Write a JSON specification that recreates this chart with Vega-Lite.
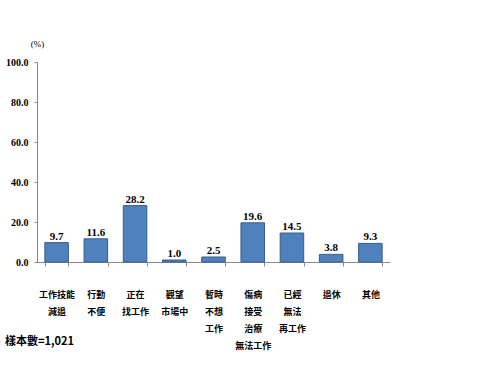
{
  "$schema": "https://vega.github.io/schema/vega-lite/v6.json",
  "width": 353,
  "height": 200,
  "autosize": "none",
  "padding": {"left": 37, "top": 62, "right": 110, "bottom": 113},
  "background": "white",
  "title": {
    "text": "樣本數=1,021",
    "orient": "bottom",
    "anchor": "start",
    "frame": "group",
    "dx": -32,
    "offset": -14,
    "font": "Noto Sans CJK TC",
    "fontSize": 11,
    "fontWeight": "bold",
    "color": "#000000"
  },
  "data": {
    "values": [
      {"reason": "工作技能/減退", "pct": 9.7},
      {"reason": "行動/不便", "pct": 11.6},
      {"reason": "正在/找工作", "pct": 28.2},
      {"reason": "觀望/市場中", "pct": 1.0},
      {"reason": "暫時/不想/工作", "pct": 2.5},
      {"reason": "傷病/接受/治療/無法工作", "pct": 19.6},
      {"reason": "已經/無法/再工作", "pct": 14.5},
      {"reason": "退休", "pct": 3.8},
      {"reason": "其他", "pct": 9.3}
    ]
  },
  "encoding": {
    "x": {
      "field": "reason",
      "type": "nominal",
      "sort": null,
      "scale": {"paddingInner": 0.4, "paddingOuter": 0.2},
      "axis": {
        "title": null,
        "labelAngle": 0,
        "labelExpr": "split(datum.label, '/')",
        "labelFont": "Noto Sans CJK TC",
        "labelFontSize": 9,
        "labelFontWeight": "bold",
        "labelColor": "#000000",
        "labelLineHeight": 17,
        "labelPadding": 24,
        "labelBaseline": "top",
        "tickBand": "extent",
        "tickSize": 4,
        "tickColor": "#888888",
        "domainColor": "#888888",
        "labelLimit": 0
      }
    },
    "y": {
      "field": "pct",
      "type": "quantitative",
      "scale": {"domain": [0, 100]},
      "axis": {
        "values": [0, 20, 40, 60, 80, 100],
        "format": ".1f",
        "title": "(%)",
        "titleAngle": 0,
        "titleX": 0,
        "titleY": -14,
        "titleAlign": "center",
        "titleFont": "Liberation Serif",
        "titleFontSize": 9,
        "titleFontWeight": "normal",
        "labelFont": "Liberation Serif",
        "labelFontSize": 10,
        "labelFontWeight": "bold",
        "labelColor": "#000000",
        "labelPadding": 6,
        "tickSize": 3,
        "tickColor": "#888888",
        "domainColor": "#888888",
        "grid": false
      }
    }
  },
  "layer": [
    {
      "mark": {"type": "bar", "color": "#4F81BD", "stroke": "#385D8A", "strokeWidth": 1}
    },
    {
      "mark": {"type": "text", "dy": -6, "font": "Liberation Serif", "fontSize": 11, "fontWeight": "bold", "color": "#000000"},
      "encoding": {"text": {"field": "pct", "type": "quantitative", "format": ".1f"}}
    }
  ],
  "config": {"view": {"stroke": null}}
}
